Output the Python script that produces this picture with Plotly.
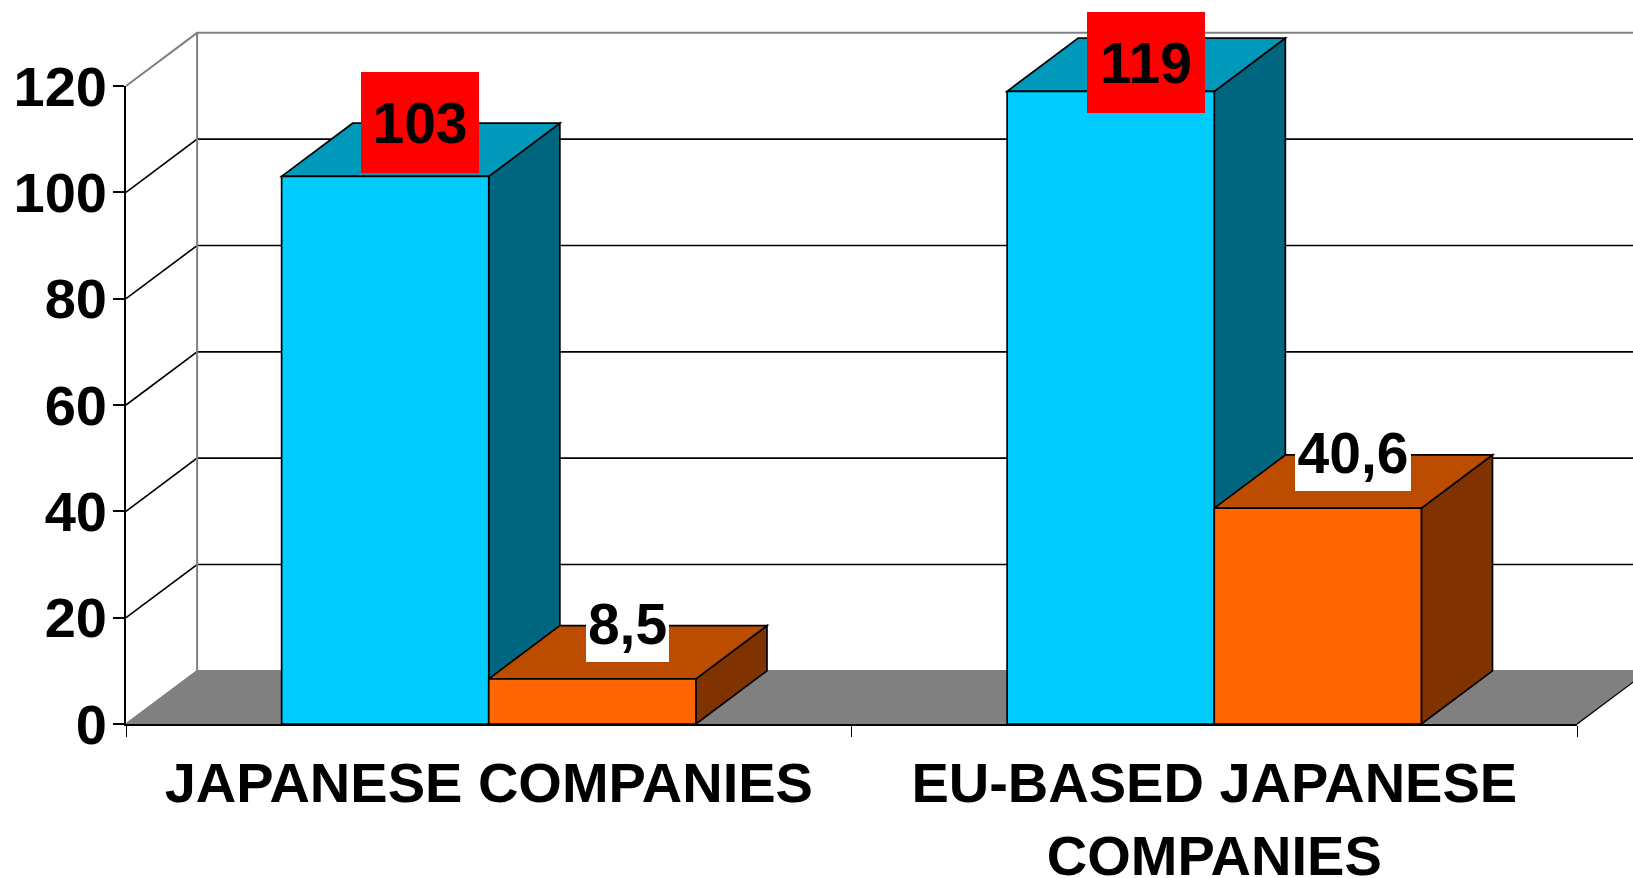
import plotly.graph_objects as go

categories = ["JAPANESE COMPANIES", "EU-BASED JAPANESE<br>COMPANIES"]
category_pos = [0.5, 1.5]
series_a = [103, 119]
series_b = [8.5, 40.6]
labels_a = ["103", "119"]
labels_b = ["8,5", "40,6"]
y_ticks = [0, 20, 40, 60, 80, 100, 120]

BLUE, BLUE_TOP, BLUE_SIDE = "#00CCFF", "#0099BB", "#006680"
ORANGE, ORANGE_TOP, ORANGE_SIDE = "#FF6600", "#BB4C00", "#803300"
GREY = "#808080"
FONT = dict(family="Liberation Sans", weight="bold", color="black", size=56)
LABEL_FONT = dict(family="Liberation Sans", weight="bold", color="black", size=57)

X_MAX, Y_MAX = 2.0, 120.0
DX, DY = 0.098, 10.0           # depth of the 3-D projection in data units
BARGAP = 0.429
BAR_W = (1 - BARGAP) / 2
EDGE = 1.7


def path(pts):
    return "M " + " L ".join(f"{x / X_MAX:.5f} {y / Y_MAX:.5f}" for x, y in pts) + " Z"


def shape(pts, fill, line="black", width=EDGE):
    return dict(type="path", xref="x domain", yref="y domain", layer="below",
                path=path(pts), fillcolor=fill, line=dict(color=line, width=width))


shapes = []
# floor
shapes.append(shape([(0, 0), (DX, DY), (X_MAX + DX, DY), (X_MAX, 0)], GREY, GREY, 1.6))
# grid + walls
for t in y_ticks[1:]:
    col = GREY if t == Y_MAX else "black"
    shapes.append(dict(type="path", xref="x domain", yref="y domain", layer="below",
                       path=f"M 0 {t / Y_MAX:.5f} L {DX / X_MAX:.5f} {(t + DY) / Y_MAX:.5f} "
                            f"L {(X_MAX + DX) / X_MAX:.5f} {(t + DY) / Y_MAX:.5f}",
                       line=dict(color=col, width=2 if t == Y_MAX else 1.6)))
shapes.append(dict(type="path", xref="x domain", yref="y domain", layer="below",
                   path=f"M {DX / X_MAX:.5f} {DY / Y_MAX:.5f} L {DX / X_MAX:.5f} {(Y_MAX + DY) / Y_MAX:.5f}",
                   line=dict(color=GREY, width=2)))
# right edge of the floor
shapes.append(dict(type="path", xref="x domain", yref="y domain", layer="below",
                   path=f"M 1 0 L {(X_MAX + DX) / X_MAX:.5f} {DY / Y_MAX:.5f}",
                   line=dict(color="black", width=1.2)))

# depth faces of the bars
for c, a, b in zip(category_pos, series_a, series_b):
    for x0, v, top, side in ((c - BAR_W, a, BLUE_TOP, BLUE_SIDE), (c, b, ORANGE_TOP, ORANGE_SIDE)):
        x1 = x0 + BAR_W
        shapes.append(shape([(x1, 0), (x1 + DX, DY), (x1 + DX, v + DY), (x1, v)], side))
        shapes.append(shape([(x0, v), (x0 + DX, v + DY), (x1 + DX, v + DY), (x1, v)], top))

fig = go.Figure()
fig.add_bar(x=category_pos, y=series_a, name="A", marker=dict(color=BLUE, line=dict(color="black", width=EDGE)))
fig.add_bar(x=category_pos, y=series_b, name="B", marker=dict(color=ORANGE, line=dict(color="black", width=EDGE)))


def label(x, y, text, bg, w, h, yshift):
    return dict(x=x, y=y, xref="x", yref="y", text=text, showarrow=False, font=LABEL_FONT,
                bgcolor=bg, width=w, height=h, borderpad=0, borderwidth=0,
                xanchor="center", yanchor="middle", xshift=35, yshift=yshift)


annotations = [
    label(category_pos[0] - BAR_W / 2, series_a[0], labels_a[0], "#FF0000", 118, 101, 54),
    label(category_pos[1] - BAR_W / 2, series_a[1], labels_a[1], "#FF0000", 118, 101, 29),
    label(category_pos[0] + BAR_W / 2, series_b[0], labels_b[0], "white", 83, 76, 55),
    label(category_pos[1] + BAR_W / 2, series_b[1], labels_b[1], "white", 116, 76, 55),
]

fig.update_layout(
    width=1633, height=878, autosize=False,
    margin=dict(l=126, r=56, t=86, b=154, pad=0),
    paper_bgcolor="white", plot_bgcolor="rgba(0,0,0,0)",
    showlegend=False, barmode="group", bargap=BARGAP, bargroupgap=0,
    shapes=shapes, annotations=annotations, font=FONT,
    xaxis=dict(range=[0, X_MAX], tickmode="array", tickvals=category_pos, ticktext=categories,
               automargin=False, ticks="", showgrid=False, zeroline=False, showline=True,
               linecolor="black", linewidth=2.4, tickfont=FONT, ticklabelstandoff=9,
               minor=dict(tickmode="array", tickvals=[0, 1, 2], ticks="outside", ticklen=11,
                          tickwidth=1.3, tickcolor="black", showgrid=False)),
    yaxis=dict(range=[0, Y_MAX], tickmode="array", tickvals=y_ticks, ticks="outside", ticklen=11,
               automargin=False, tickwidth=1.6, tickcolor="black", showgrid=False, zeroline=False,
               showline=True, linecolor="black", linewidth=1.6, tickfont=FONT, ticklabelstandoff=-5),
)

fig.write_html("out.html", config=dict(displayModeBar=False),
               post_script="document.body.style.margin='0';document.documentElement.style.overflow='hidden';")
